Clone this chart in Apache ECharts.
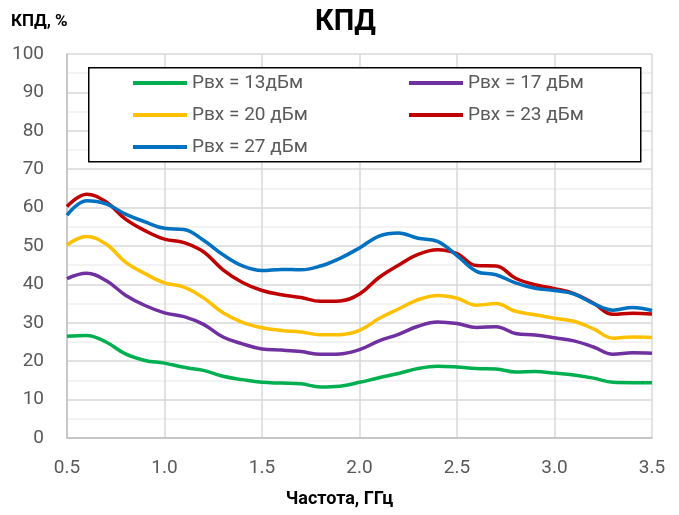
<!DOCTYPE html>
<html>
<head>
    <meta charset="utf-8">
    <script src="https://cdn.jsdelivr.net/npm/echarts@6/dist/echarts.min.js"></script>
    <style>
        html, body { margin: 0; padding: 0; background: #fff; }
        #main { width: 679px; height: 515px; }
    </style>
</head>
<body>
    <div id="main"></div>
    <script>
        // частота, ГГц
        var freq = [0.5, 0.6, 0.7, 0.8, 0.9, 1.0, 1.1, 1.2, 1.3, 1.4, 1.5, 1.6, 1.7, 1.8, 1.9, 2.0,
            2.1, 2.2, 2.3, 2.4, 2.5, 2.6, 2.7, 2.8, 2.9, 3.0, 3.1, 3.2, 3.3, 3.4, 3.5];

        // КПД, % для разных уровней входной мощности
        var p13 = [26.5, 26.7, 25.0, 21.9, 20.2, 19.5, 18.4, 17.6, 16.1, 15.2, 14.5, 14.3, 14.1, 13.3, 13.5, 14.5,
            15.7, 16.8, 18.1, 18.7, 18.5, 18.1, 18.0, 17.2, 17.3, 16.9, 16.4, 15.6, 14.5, 14.4, 14.4];
        var p17 = [41.5, 42.9, 41.0, 37.2, 34.5, 32.6, 31.6, 29.6, 26.3, 24.5, 23.2, 22.9, 22.5, 21.8, 21.9, 23.0,
            25.3, 27.0, 29.1, 30.2, 29.8, 28.8, 29.0, 27.2, 26.8, 26.1, 25.3, 23.7, 21.8, 22.2, 22.1];
        var p20 = [50.3, 52.5, 50.5, 45.8, 42.8, 40.4, 39.3, 36.5, 32.6, 30.1, 28.7, 28.0, 27.6, 26.9, 26.9, 28.0,
            31.1, 33.6, 36.0, 37.1, 36.4, 34.6, 35.0, 33.0, 32.1, 31.2, 30.4, 28.4, 26.0, 26.3, 26.2];
        var p23 = [60.3, 63.5, 61.5, 57.0, 54.0, 51.8, 50.9, 48.5, 43.8, 40.5, 38.4, 37.3, 36.6, 35.6, 35.7, 37.5,
            41.8, 45.0, 47.8, 49.0, 48.0, 44.9, 44.8, 41.6, 39.9, 38.9, 37.6, 35.1, 32.2, 32.5, 32.3];
        var p27 = [58.0, 61.8, 61.0, 58.3, 56.3, 54.6, 54.3, 51.5, 47.7, 44.8, 43.6, 43.9, 43.8, 44.8, 46.8, 49.5,
            52.6, 53.4, 52.0, 51.2, 47.5, 43.4, 42.5, 40.4, 39.0, 38.4, 37.5, 35.0, 33.3, 34.0, 33.2];

        var names = ['Рвх = 13дБм', 'Рвх = 17 дБм', 'Рвх = 20 дБм', 'Рвх = 23 дБм', 'Рвх = 27 дБм'];
        var values = [p13, p17, p20, p23, p27];
        var colors = ['#00b050', '#7030a0', '#ffc000', '#c00000', '#0070c0'];

        var font = 'Roboto, "Noto Sans", sans-serif';

        var series = values.map(function (vals, i) {
            return {
                name: names[i],
                type: 'line',
                smooth: 0.4,
                symbol: 'none',
                lineStyle: { width: 3.5, color: colors[i] },
                itemStyle: { color: colors[i] },
                data: freq.map(function (f, j) { return [f, vals[j]]; })
            };
        });

        // легенда в две колонки, как в Excel
        function legendCol(list, left) {
            return {
                data: list,
                orient: 'vertical',
                left: left,
                top: 73,
                padding: 0,
                itemWidth: 54,
                itemHeight: 4,
                itemGap: 12,
                icon: 'rect',
                z: 10,
                textStyle: { fontFamily: font, fontSize: 19, color: '#595959', lineHeight: 20 }
            };
        }

        var myChart = echarts.init(document.getElementById('main'));
        var option = {
            animation: false,
            textStyle: { fontFamily: font },
            title: {
                text: 'КПД',
                left: 315,
                top: 8,
                padding: 0,
                textStyle: { fontFamily: font, fontSize: 29, fontWeight: 'bold', color: '#000' }
            },
            legend: [
                legendCol([names[0], names[2], names[4]], 133),
                legendCol([names[1], names[3]], 409)
            ],
            grid: { left: 67, right: 27, top: 54, bottom: 77 },
            xAxis: {
                type: 'value',
                min: 0.5,
                max: 3.5,
                interval: 0.5,
                name: 'Частота, ГГц',
                nameLocation: 'middle',
                nameGap: 52,
                nameTextStyle: {
                    fontFamily: font, fontSize: 18, fontWeight: 'bold', color: '#000',
                    padding: [0, 40, 0, 0]
                },
                axisLine: { lineStyle: { color: '#bfbfbf', width: 1.5 } },
                axisTick: { show: false },
                axisLabel: {
                    fontSize: 19, color: '#595959', margin: 21,
                    formatter: function (v) { return v.toFixed(1); }
                },
                splitLine: { show: true, lineStyle: { color: '#d9d9d9', width: 1.5 } }
            },
            yAxis: {
                type: 'value',
                min: 0,
                max: 100,
                interval: 10,
                name: 'КПД, %',
                nameLocation: 'end',
                nameGap: 24,
                nameTextStyle: {
                    fontFamily: font, fontSize: 17, fontWeight: 'bold', color: '#000',
                    align: 'left', padding: [0, 0, 0, -56]
                },
                axisLine: { show: true, lineStyle: { color: '#bfbfbf', width: 1.5 } },
                axisTick: { show: false },
                axisLabel: { fontSize: 19, color: '#595959', margin: 23 },
                splitLine: { lineStyle: { color: '#d9d9d9', width: 1.5 } },
                minorTick: { show: false, splitNumber: 2 },
                minorSplitLine: { show: true, lineStyle: { color: '#f0f0f0', width: 1.5 } }
            },
            graphic: [{
                // рамка легенды
                type: 'rect',
                left: 88,
                top: 67,
                z: 1,
                shape: { width: 552, height: 94 },
                style: { fill: '#fff', stroke: '#000', lineWidth: 1.5 }
            }],
            series: series
        };
        myChart.setOption(option);
    </script>
</body>
</html>
